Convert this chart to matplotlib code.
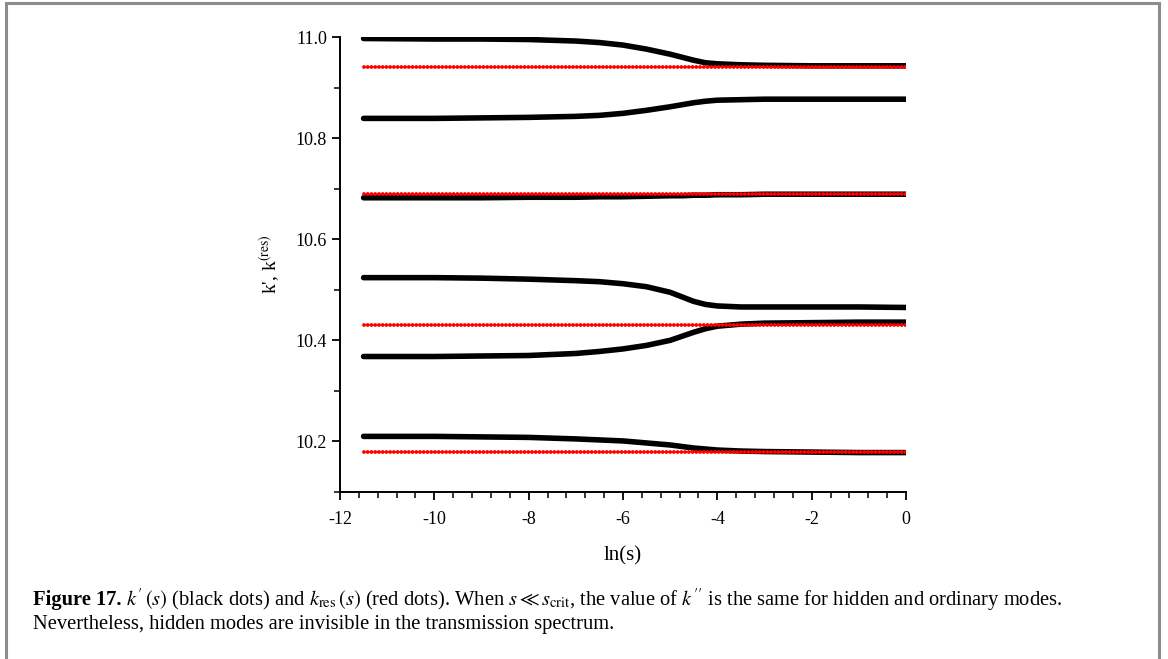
import numpy as np
import matplotlib
matplotlib.use("Agg")
import matplotlib.pyplot as plt
from matplotlib.ticker import MultipleLocator
from matplotlib.patches import Rectangle

plt.rcParams['font.family'] = ['Liberation Serif', 'DejaVu Serif']
plt.rcParams['mathtext.fontset'] = 'stix'

# ln(s) sample positions
ln_s = [-11.5, -10, -9, -8, -7, -6.5, -6, -5.5, -5, -4.75, -4.5, -4.25, -4, -3.5, -3, -2, -1, 0]

# k'(s) branches (black dots)
k1 = [10.997, 10.996, 10.996, 10.995, 10.992, 10.989, 10.984, 10.976, 10.966, 10.960, 10.954, 10.949, 10.947, 10.945, 10.944, 10.943, 10.943, 10.943]
k2 = [10.839, 10.839, 10.840, 10.841, 10.843, 10.845, 10.849, 10.855, 10.862, 10.866, 10.870, 10.873, 10.875, 10.876, 10.877, 10.877, 10.877, 10.877]
k3 = [10.682, 10.682, 10.682, 10.683, 10.683, 10.684, 10.684, 10.685, 10.686, 10.686, 10.687, 10.687, 10.688, 10.688, 10.689, 10.689, 10.689, 10.689]
k4 = [10.524, 10.524, 10.523, 10.521, 10.518, 10.516, 10.512, 10.506, 10.495, 10.486, 10.477, 10.471, 10.468, 10.466, 10.466, 10.466, 10.466, 10.465]
k5 = [10.368, 10.368, 10.369, 10.370, 10.374, 10.378, 10.383, 10.390, 10.400, 10.408, 10.416, 10.423, 10.428, 10.432, 10.434, 10.435, 10.436, 10.436]
k6 = [10.210, 10.210, 10.209, 10.208, 10.205, 10.203, 10.201, 10.197, 10.193, 10.190, 10.187, 10.185, 10.183, 10.181, 10.180, 10.179, 10.178, 10.178]
black_branches = [k1, k2, k3, k4, k5, k6]

# k_res(s) levels (red dots), constant in s
res_span = [-11.5, 0]
k_res = [10.940, 10.690, 10.430, 10.179]

fig = plt.figure(figsize=(11.68, 6.59), dpi=100)

# outer frame of the figure panel
fig.patches.append(Rectangle((6 / 1168, -0.05), 1153 / 1168, 1.05 - 3 / 659, transform=fig.transFigure,
                             fill=False, edgecolor='#8c8c8c', linewidth=2.2))

ax = fig.add_axes([340 / 1168, 1 - 492 / 659, 566 / 1168, 455 / 659])

for kb in black_branches:
    ax.plot(ln_s, kb, color='black', linewidth=4.0, solid_capstyle='round',
            solid_joinstyle='round', zorder=2)

for kr in k_res:
    ax.plot(res_span, [kr, kr], color='red', linewidth=2.8, linestyle=(0, (0.01, 0.95)),
            dash_capstyle='round', zorder=3)

ax.set_xlim(-12, 0)
ax.set_ylim(10.1, 11.0)
ax.xaxis.set_minor_locator(MultipleLocator(0.4))
ax.yaxis.set_minor_locator(MultipleLocator(0.1))
ax.set_yticks([10.2, 10.4, 10.6, 10.8, 11.0])
ax.set_yticklabels(['10.2', '10.4', '10.6', '10.8', '11.0'])
ax.set_xticks([-12, -10, -8, -6, -4, -2, 0])
ax.set_xticklabels(['-12', '-10', '-8', '-6', '-4', '-2', '0'])
ax.tick_params(which='major', direction='out', length=6, width=1.3, labelsize=13)
ax.tick_params(axis='x', which='major', pad=8)
ax.tick_params(which='minor', direction='out', length=4, width=1.1)
ax.spines['top'].set_visible(False)
ax.spines['right'].set_visible(False)
ax.spines['left'].set_linewidth(1.4)
ax.spines['bottom'].set_linewidth(1.4)
ax.set_xlabel('ln(s)', fontsize=15, labelpad=13)
ax.set_ylabel(r"k', k$^{\rm (res)}$", fontsize=14, labelpad=10)

# caption
cap_x = 33 / 1168
cap_size = 14.8
t1 = fig.text(cap_x, 1 - 600 / 659, 'Figure 17.', fontsize=cap_size, fontweight='bold', va='center')
fig.canvas.draw()
bb = t1.get_window_extent(fig.canvas.get_renderer())
x2 = (bb.x1 + 5) / fig.bbox.width
fig.text(x2, 1 - 600 / 659,
         r"$k'\,(s)$ (black dots) and $k_{\rm res}\,(s)$ (red dots). When $s\ll s_{\rm crit}$, "
         r"the value of $k''$ is the same for hidden and ordinary modes.",
         fontsize=cap_size, va='center')
fig.text(cap_x, 1 - 625 / 659,
         'Nevertheless, hidden modes are invisible in the transmission spectrum.',
         fontsize=cap_size, va='center')

fig.savefig('out.png', dpi=100)
